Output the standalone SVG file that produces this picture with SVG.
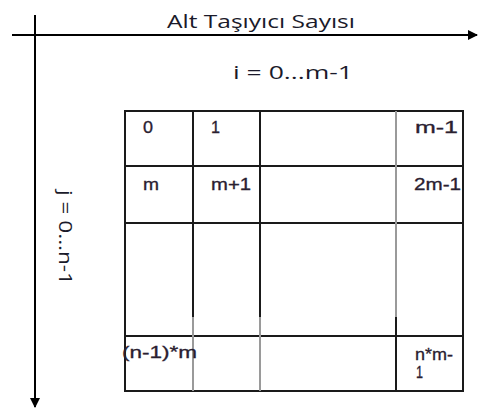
<svg xmlns="http://www.w3.org/2000/svg" width="478" height="408" viewBox="0 0 478 408">
<style>
.ax{stroke:#000;stroke-width:2;fill:none}
.gl{stroke:#1a1a1a;stroke-width:2;fill:none}
.gg{stroke:#9a9a9a;stroke-width:2;fill:none}
.lbl{font-family:"Open Sans","Noto Sans",sans-serif;font-size:18px;fill:#1a1a2a}
.cell{font-family:"Liberation Sans",Arial,sans-serif;font-size:16px;fill:#2a2030;stroke:#2a2030;stroke-width:0.3}
</style>
<defs>
<marker id="arr" markerWidth="10" markerHeight="10" refX="9" refY="5" orient="auto" markerUnits="userSpaceOnUse">
<path d="M0,0 L10,5 L0,10 Z" fill="#000"/>
</marker>
</defs>
<rect width="478" height="408" fill="#fff"/>
<g id="connectors">
<line class="ax" x1="12" y1="35" x2="477" y2="35" marker-end="url(#arr)"/>
<line class="ax" x1="35" y1="15" x2="35" y2="407" marker-end="url(#arr)"/>
</g>
<g id="axis-labels">
<text class="lbl" x="167" y="28" textLength="188" lengthAdjust="spacingAndGlyphs">Alt Taşıyıcı Sayısı</text>
<text class="lbl" x="233" y="79" textLength="120" lengthAdjust="spacingAndGlyphs">i = 0...m-1</text>
<text class="lbl" transform="translate(59,190) rotate(90)" x="0" y="0" textLength="95" lengthAdjust="spacingAndGlyphs">j = 0...n-1</text>
</g>
<g id="grid">
<rect class="gl" x="125" y="111" width="338" height="280"/>
<line class="gl" x1="125" y1="166" x2="463" y2="166"/>
<line class="gl" x1="125" y1="223" x2="463" y2="223"/>
<line class="gl" x1="125" y1="336" x2="463" y2="336"/>
<line class="gl" x1="193" y1="111" x2="193" y2="317"/>
<line class="gg" x1="193" y1="317" x2="193" y2="391"/>
<line class="gl" x1="260" y1="111" x2="260" y2="317"/>
<line class="gg" x1="260" y1="317" x2="260" y2="391"/>
<line class="gg" x1="396" y1="111" x2="396" y2="317"/>
<line class="gl" x1="396" y1="317" x2="396" y2="391"/>
</g>
<g id="cell-0"><text class="cell" x="143" y="133" textLength="10" lengthAdjust="spacingAndGlyphs">0</text></g>
<g id="cell-1"><text class="cell" x="211" y="133" textLength="9" lengthAdjust="spacingAndGlyphs">1</text></g>
<g id="cell-m-1"><text class="cell" x="415" y="133" textLength="43" lengthAdjust="spacingAndGlyphs">m-1</text></g>
<g id="cell-m"><text class="cell" x="143" y="190" textLength="16" lengthAdjust="spacingAndGlyphs">m</text></g>
<g id="cell-m+1"><text class="cell" x="211" y="190" textLength="40" lengthAdjust="spacingAndGlyphs">m+1</text></g>
<g id="cell-2m-1"><text class="cell" x="414" y="190" textLength="47" lengthAdjust="spacingAndGlyphs">2m-1</text></g>
<g id="cell-n-1m"><text class="cell" x="122" y="358" textLength="75" lengthAdjust="spacingAndGlyphs">(n-1)*m</text></g>
<g id="cell-nm-1">
<text class="cell" x="415" y="360" textLength="38" lengthAdjust="spacingAndGlyphs">n*m-</text>
<text class="cell" x="416" y="378" textLength="7" lengthAdjust="spacingAndGlyphs">1</text>
</g>
</svg>
